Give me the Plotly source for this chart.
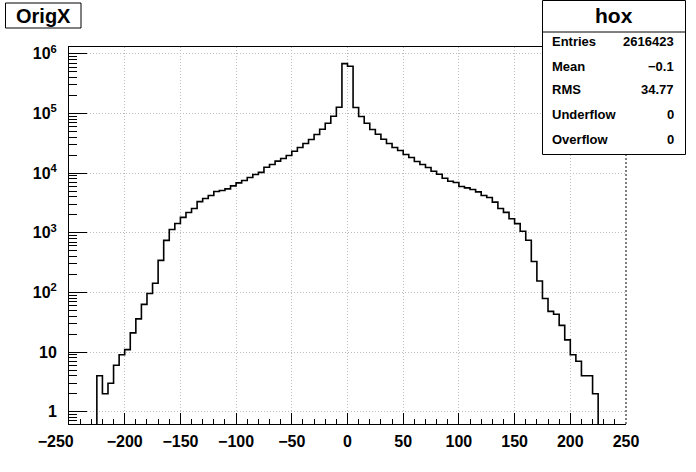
import plotly.graph_objects as go

# ---- data ----
bin_width = 5
x_min, x_max = -250, 250
bin_left_edges = list(range(-250, 250, 5))
counts = [
    0, 0, 0, 0, 0,                                   # -250 .. -230
    4, 2, 3, 6, 9, 11, 21, 36, 63, 96,               # -225 .. -180
    142, 344, 745, 1135, 1431, 1810, 2190, 2554, 3320, 3750,   # -175 .. -130
    4217, 4920, 5110, 5430, 6100, 6850, 7510, 8430, 9500, 10300,  # -125 .. -80
    12560, 13930, 15850, 17550, 19700, 23300, 26850, 31300, 36550, 44350,  # -75 .. -30
    54350, 68500, 89800, 127000, 685000,             # -25 .. -5
    618000, 126000, 89000, 68500, 53700,             # 0 .. 20
    44900, 37000, 31300, 26850, 23900, 20500, 18250, 15640, 13930, 12400,  # 25 .. 70
    10770, 9590, 8220, 7310, 6950, 5960, 5650, 5310, 4840, 4220,  # 75 .. 120
    3900, 3260, 2550, 2200, 1720, 1420, 1058, 748, 330, 155,  # 125 .. 170
    79, 48, 43, 28, 16, 9, 7, 4, 4, 2,               # 175 .. 220
    0, 0, 0, 0, 0,                                   # 225 .. 245
]
y_tick_vals = [1, 10, 100, 1000, 10000, 100000, 1000000]
y_tick_text = ["1", "10", "10<sup>2</sup>", "10<sup>3</sup>", "10<sup>4</sup>",
               "10<sup>5</sup>", "10<sup>6</sup>"]
x_tick_vals = list(range(-250, 251, 50))
x_tick_text = ["\u2212250\u2007\u2007\u2007", "\u2212200", "\u2212150", "\u2212100",
               "\u221250", "0", "50", "100", "150", "200", "250"]

hist_title = "OrigX"
stats_name = "hox"
stats_labels = ["Entries", "Mean", "RMS", "Underflow", "Overflow"]
stats_values = ["2616423", "\u22120.1", "34.77", "0", "0"]

# ---- layout geometry ----
W, H = 696, 472
ML, MR, MT, MB = 69, 70, 47, 48
PW, PH = W - ML - MR, H - MT - MB


def px(x):
    return (x - ML) / PW


def py(y):
    return (H - MB - y) / PH


FONT = "Liberation Sans, Arial, Helvetica, sans-serif"

edges = bin_left_edges + [bin_left_edges[-1] + bin_width]
plot_counts = [c if c > 0 else 1e-2 for c in counts]
step_y = plot_counts + [plot_counts[-1]]

fig = go.Figure()
fig.add_trace(go.Scatter(
    x=edges, y=step_y, mode="lines", line=dict(shape="hv", color="black", width=1.6),
    hoverinfo="skip", showlegend=False,
))

minor_y = [k * 10 ** n for n in range(-1, 7) for k in range(2, 10)]
GRID_DASH = "1px,2px"

fig.update_layout(
    width=W, height=H,
    margin=dict(l=ML, r=MR, t=MT, b=MB),
    paper_bgcolor="white", plot_bgcolor="white",
    showlegend=False,
    xaxis=dict(
        range=[x_min, x_max], tickvals=x_tick_vals, ticktext=x_tick_text,
        ticks="inside", ticklen=11, tickwidth=1, tickcolor="black",
        showline=True, linecolor="black", linewidth=1, mirror=True,
        showgrid=True, gridcolor="#bdbdbd", griddash=GRID_DASH, gridwidth=1,
        zeroline=False,
        tickfont=dict(family=FONT, size=16, color="black", weight="bold"),
        ticklabelstandoff=3,
        minor=dict(dtick=10, ticks="inside", ticklen=5, tickwidth=1, tickcolor="black",
                   showgrid=False),
    ),
    yaxis=dict(
        type="log", range=[-0.206, 6.114],
        tickvals=y_tick_vals, ticktext=y_tick_text,
        ticks="inside", ticklen=18, tickwidth=1, tickcolor="black",
        showline=True, linecolor="black", linewidth=1, mirror=False,
        showgrid=True, gridcolor="#bdbdbd", griddash=GRID_DASH, gridwidth=1,
        zeroline=False,
        tickfont=dict(family=FONT, size=16, color="black", weight="bold"),
        ticklabelstandoff=8,
        minor=dict(tickvals=minor_y, ticks="inside", ticklen=8, tickwidth=1,
                   tickcolor="black", showgrid=False),
    ),
)

shapes = []
# right frame edge (dotted)
shapes.append(dict(type="line", xref="paper", yref="paper", x0=1, x1=1, y0=0, y1=1,
                   line=dict(color="black", width=1, dash="2px,2px")))
# title box
shapes.append(dict(type="rect", xref="paper", yref="paper",
                   x0=px(5.5), x1=px(81), y0=py(3), y1=py(28),
                   line=dict(color="black", width=1), fillcolor="white"))
# stats box
shapes.append(dict(type="rect", xref="paper", yref="paper",
                   x0=px(542.5), x1=px(685.5), y0=py(0.5), y1=py(154.5),
                   line=dict(color="black", width=1), fillcolor="white"))
shapes.append(dict(type="line", xref="paper", yref="paper",
                   x0=px(542.5), x1=px(685.5), y0=py(32), y1=py(32),
                   line=dict(color="black", width=1)))
fig.update_layout(shapes=shapes)

ann = []
ann.append(dict(text=hist_title, xref="paper", yref="paper", x=px(43.5), y=py(15.5),
                xanchor="center", yanchor="middle", showarrow=False,
                font=dict(family=FONT, size=20, color="black", weight="bold")))
ann.append(dict(text=stats_name, xref="paper", yref="paper", x=px(614), y=py(16),
                xanchor="center", yanchor="middle", showarrow=False,
                font=dict(family=FONT, size=21, color="black", weight="bold")))
row_y = [41.5, 66, 90, 114.5, 139]
for lab, val, yy in zip(stats_labels, stats_values, row_y):
    ann.append(dict(text=lab, xref="paper", yref="paper", x=px(550), y=py(yy),
                    xanchor="left", yanchor="middle", showarrow=False,
                    font=dict(family=FONT, size=13, color="black", weight="bold")))
    ann.append(dict(text=val, xref="paper", yref="paper", x=px(676), y=py(yy),
                    xanchor="right", yanchor="middle", showarrow=False,
                    font=dict(family=FONT, size=13, color="black", weight="bold")))
fig.update_layout(annotations=ann)

fig.write_html("out.html", config={"displayModeBar": False},
               post_script="document.body.style.margin='0';document.body.style.padding='0';")
